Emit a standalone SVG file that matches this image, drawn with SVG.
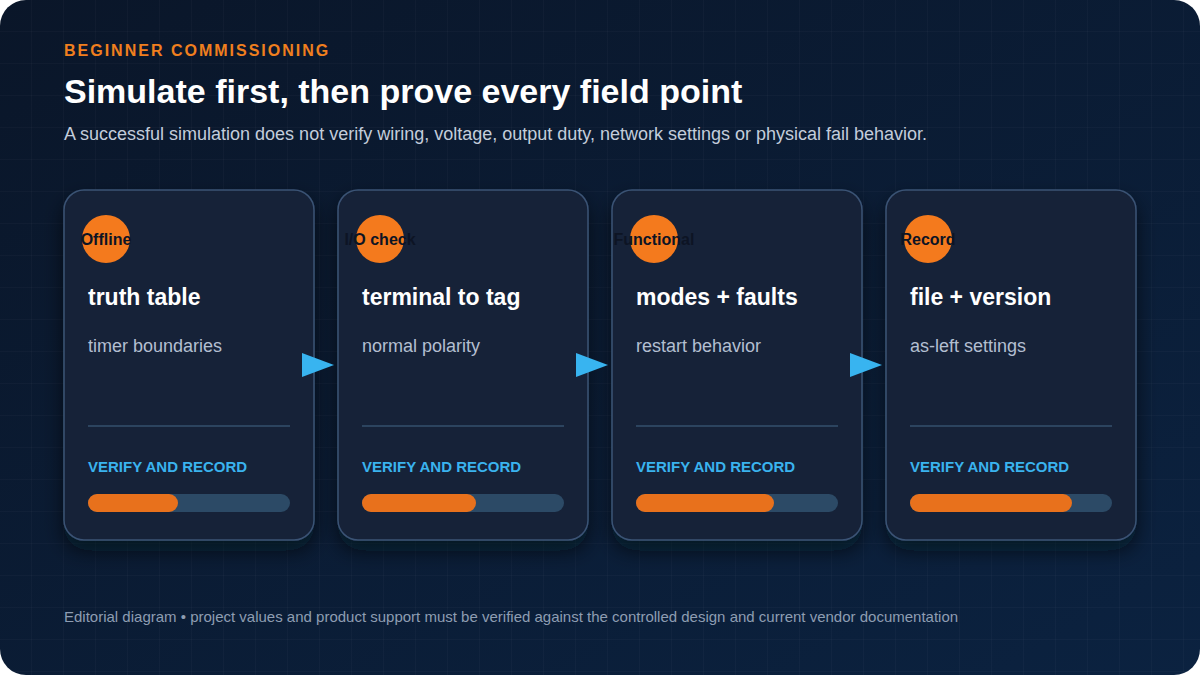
<svg xmlns="http://www.w3.org/2000/svg" width="1200" height="675" viewBox="0 0 1200 675">
  <defs>
    <linearGradient id="bg" x1="0" y1="0" x2="1" y2="1">
      <stop offset="0" stop-color="#0a1629"/>
      <stop offset="1" stop-color="#0b2240"/>
    </linearGradient>
    <pattern id="grid" width="32" height="32" patternUnits="userSpaceOnUse">
      <path d="M32 0 V32 M0 32 H32" fill="none" stroke="#ffffff" stroke-opacity="0.045" stroke-width="1"/>
    </pattern>
    <filter id="shadow" x="-20%" y="-20%" width="140%" height="150%">
      <feDropShadow dx="0" dy="10" stdDeviation="10" flood-color="#050b16" flood-opacity="0.6"/>
    </filter>
    <clipPath id="frame">
      <rect x="0" y="0" width="1200" height="675" rx="26"/>
    </clipPath>
  </defs>
  <style>
    .card { fill: #172239; stroke: #3a5374; stroke-width: 1.5; }
    .badge { fill: #f47a1d; }
    .badgeText { font-family: "Liberation Sans", Arial, sans-serif; font-weight: 700; font-size: 16px; fill: #0d1424; text-anchor: middle; }
    .title { font-family: "Liberation Sans", Arial, sans-serif; font-weight: 700; font-size: 23px; fill: #ffffff; }
    .sub { font-family: "Liberation Sans", Arial, sans-serif; font-size: 18px; fill: #b3bfd1; }
    .div { stroke: #34506d; stroke-width: 1.5; }
    .verify { font-family: "Liberation Sans", Arial, sans-serif; font-weight: 700; font-size: 15px; fill: #3ab3ee; }
    .track { fill: #2c4a66; }
    .fill { fill: #e8711c; }
    .arrow { fill: #38b4f0; }
  </style>

  <rect x="0" y="0" width="1200" height="675" fill="#ffffff"/>
  <g clip-path="url(#frame)">
    <rect x="0" y="0" width="1200" height="675" fill="url(#bg)"/>
    <rect x="0" y="0" width="1200" height="675" fill="url(#grid)"/>
  </g>

  <g id="header">
    <text x="64" y="56" font-family="Liberation Sans, Arial, sans-serif" font-weight="700" font-size="16" letter-spacing="2" fill="#f07f1e">BEGINNER COMMISSIONING</text>
    <text x="64" y="103" font-family="Liberation Sans, Arial, sans-serif" font-weight="700" font-size="34" fill="#ffffff">Simulate first, then prove every field point</text>
    <text x="64" y="140" font-family="Liberation Sans, Arial, sans-serif" font-size="18" fill="#c3cddb">A successful simulation does not verify wiring, voltage, output duty, network settings or physical fail behavior.</text>
  </g>

  <g id="card-offline">
    <rect class="card" x="64" y="190" width="250" height="350" rx="20" filter="url(#shadow)"/>
    <circle class="badge" cx="106" cy="239" r="24"/>
    <text class="badgeText" x="106" y="245">Offline</text>
    <text class="title" x="88" y="305">truth table</text>
    <text class="sub" x="88" y="352">timer boundaries</text>
    <line class="div" x1="88" y1="426" x2="290" y2="426"/>
    <text class="verify" x="88" y="472">VERIFY AND RECORD</text>
    <rect class="track" x="88" y="494" width="202" height="18" rx="9"/>
    <rect class="fill" x="88" y="494" width="90" height="18" rx="9"/>
  </g>

  <g id="card-io">
    <rect class="card" x="338" y="190" width="250" height="350" rx="20" filter="url(#shadow)"/>
    <circle class="badge" cx="380" cy="239" r="24"/>
    <text class="badgeText" x="380" y="245">I/O check</text>
    <text class="title" x="362" y="305">terminal to tag</text>
    <text class="sub" x="362" y="352">normal polarity</text>
    <line class="div" x1="362" y1="426" x2="564" y2="426"/>
    <text class="verify" x="362" y="472">VERIFY AND RECORD</text>
    <rect class="track" x="362" y="494" width="202" height="18" rx="9"/>
    <rect class="fill" x="362" y="494" width="114" height="18" rx="9"/>
  </g>

  <g id="card-functional">
    <rect class="card" x="612" y="190" width="250" height="350" rx="20" filter="url(#shadow)"/>
    <circle class="badge" cx="654" cy="239" r="24"/>
    <text class="badgeText" x="654" y="245">Functional</text>
    <text class="title" x="636" y="305">modes + faults</text>
    <text class="sub" x="636" y="352">restart behavior</text>
    <line class="div" x1="636" y1="426" x2="838" y2="426"/>
    <text class="verify" x="636" y="472">VERIFY AND RECORD</text>
    <rect class="track" x="636" y="494" width="202" height="18" rx="9"/>
    <rect class="fill" x="636" y="494" width="138" height="18" rx="9"/>
  </g>

  <g id="card-record">
    <rect class="card" x="886" y="190" width="250" height="350" rx="20" filter="url(#shadow)"/>
    <circle class="badge" cx="928" cy="239" r="24"/>
    <text class="badgeText" x="928" y="245">Record</text>
    <text class="title" x="910" y="305">file + version</text>
    <text class="sub" x="910" y="352">as-left settings</text>
    <line class="div" x1="910" y1="426" x2="1112" y2="426"/>
    <text class="verify" x="910" y="472">VERIFY AND RECORD</text>
    <rect class="track" x="910" y="494" width="202" height="18" rx="9"/>
    <rect class="fill" x="910" y="494" width="162" height="18" rx="9"/>
  </g>

  <g id="connectors">
    <polygon class="arrow" points="302,353 334,365 302,377"/>
    <polygon class="arrow" points="576,353 608,365 576,377"/>
    <polygon class="arrow" points="850,353 882,365 850,377"/>
  </g>

  <g id="footer">
    <text x="64" y="622" font-family="Liberation Sans, Arial, sans-serif" font-size="15" fill="#8e9db2">Editorial diagram • project values and product support must be verified against the controlled design and current vendor documentation</text>
  </g>
</svg>
